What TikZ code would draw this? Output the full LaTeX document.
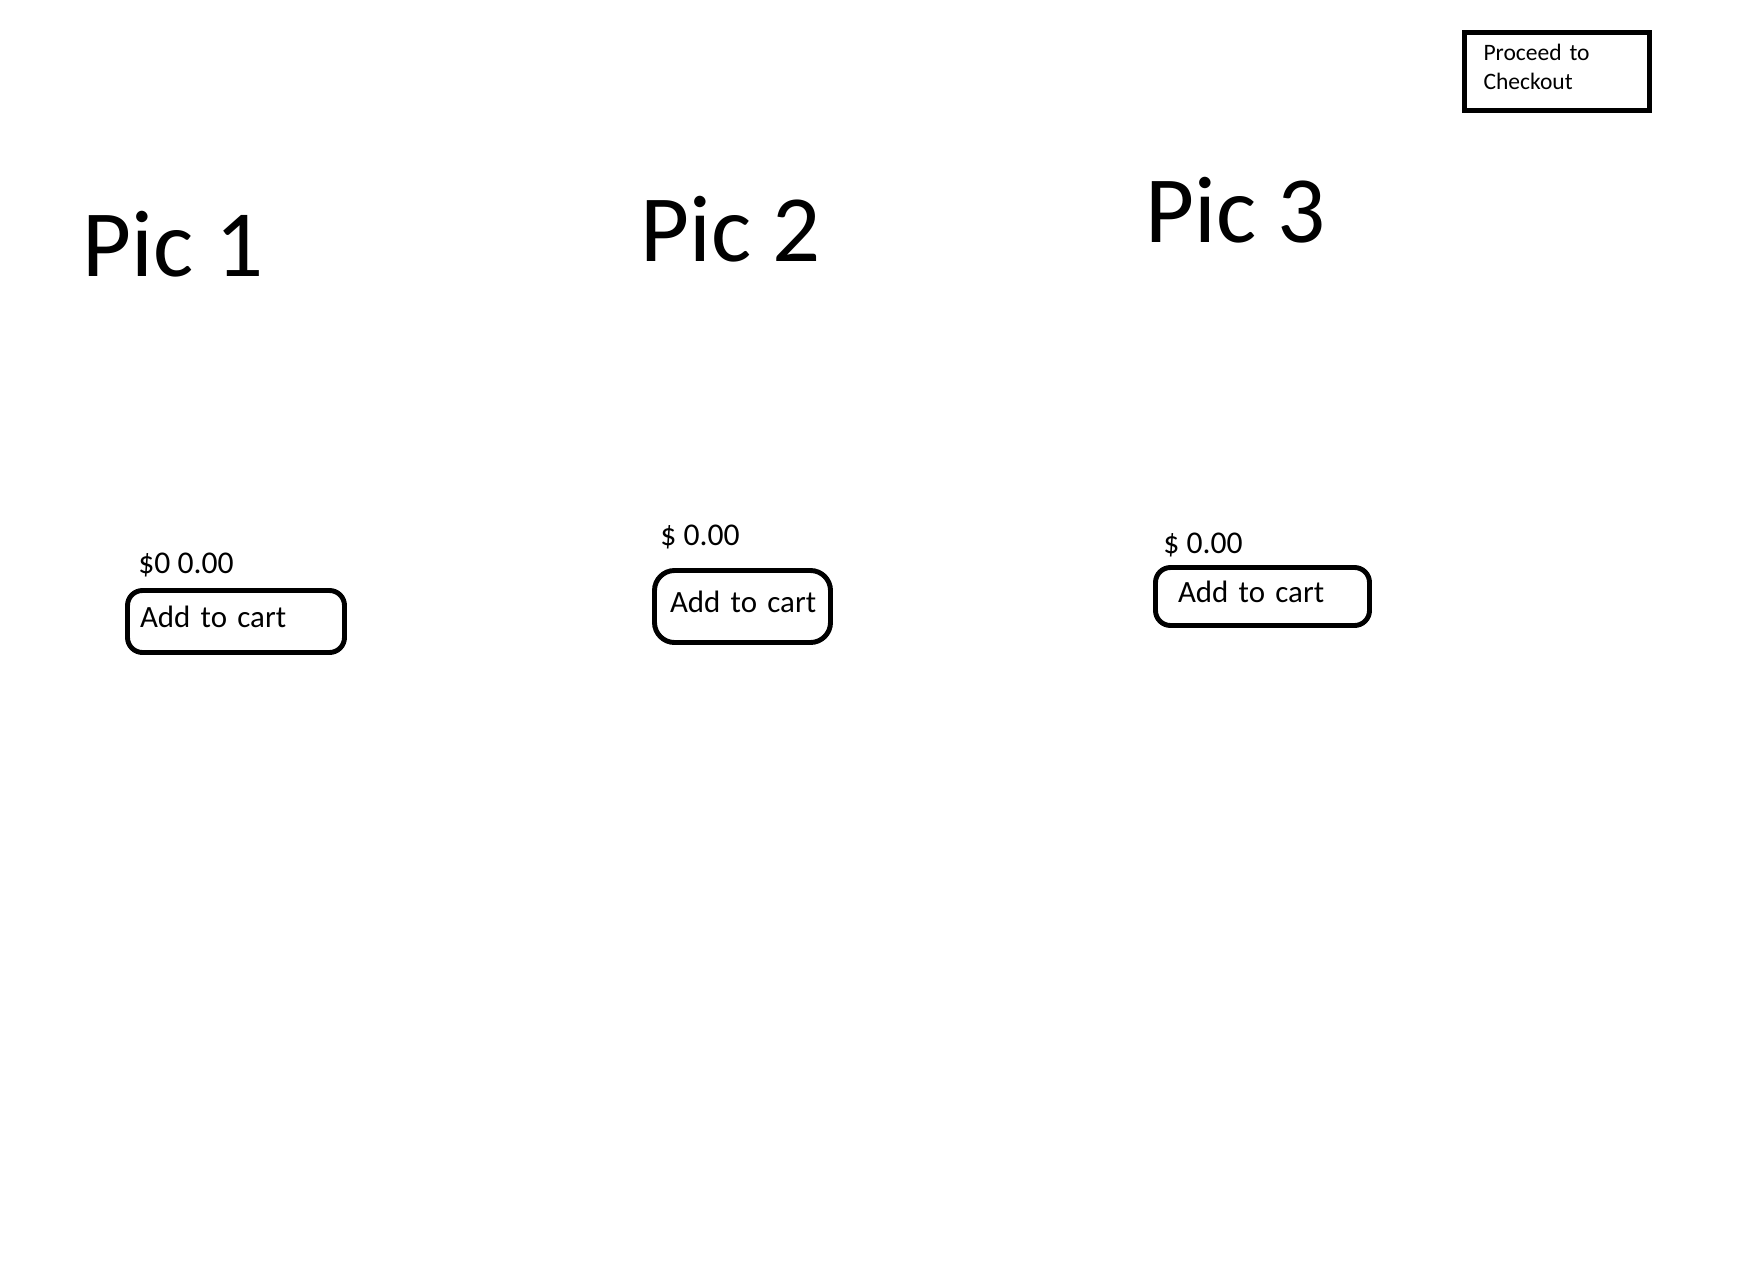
\documentclass[tikz,border=0pt]{standalone}
\usepackage{fontspec}
\setmainfont{Carlito}
\usepackage{tikz}

\begin{document}
\begin{tikzpicture}[
        pictitle/.style={anchor=base west, inner sep=0pt, font=\fontsize{54}{64}\selectfont},
        price/.style={anchor=base west, inner sep=0pt, font=\fontsize{18}{21}\selectfont},
        cartbox/.style={draw, line width=2.8pt, rounded corners=0.3cm, align=left, inner ysep=0pt, text height=0.45cm, text depth=0.2cm, font=\fontsize{17.6}{21}\selectfont},
        checkoutbox/.style={draw, line width=2.8pt, align=left, inner ysep=0pt, text height=0.32cm, text depth=0.74cm, font=\fontsize{13.4}{16.5}\selectfont}
    ]
            \useasboundingbox[fill=white] (0,0) rectangle (34.88,-25.38);

            \node[checkoutbox, minimum width=3.7cm, minimum height=1.56cm, inner xsep=0.38cm, text width=2.94cm] (checkout) at (31.14,-1.43) {Proceed to\\Checkout};

            \node[pictitle] (pic1) at (1.65,-5.52) {Pic 1};
            \node[pictitle] (pic2) at (12.80,-5.24) {Pic 2};
            \node[pictitle] (pic3) at (22.90,-4.86) {Pic 3};

            \node[price] (price1) at (2.76,-11.46) {\$0 0.00};
            \node[price] (price2) at (13.20,-10.90) {\$ 0.00};
            \node[price] (price3) at (23.26,-11.06) {\$ 0.00};

            \node[cartbox, minimum width=4.34cm, minimum height=1.24cm, inner xsep=0.25cm, text width=3.84cm] (cart1) at (4.72,-12.43) {\mbox{Add to cart}};
            \node[cartbox, rounded corners=0.4cm, minimum width=3.52cm, minimum height=1.44cm, inner xsep=0.31cm, text width=2.90cm] (cart2) at (14.85,-12.13) {\mbox{Add to cart}};
            \node[cartbox, minimum width=4.28cm, minimum height=1.16cm, inner xsep=0.45cm, text width=3.38cm] (cart3) at (25.25,-11.93) {\mbox{Add to cart}};
        \end{tikzpicture}
\end{document}
